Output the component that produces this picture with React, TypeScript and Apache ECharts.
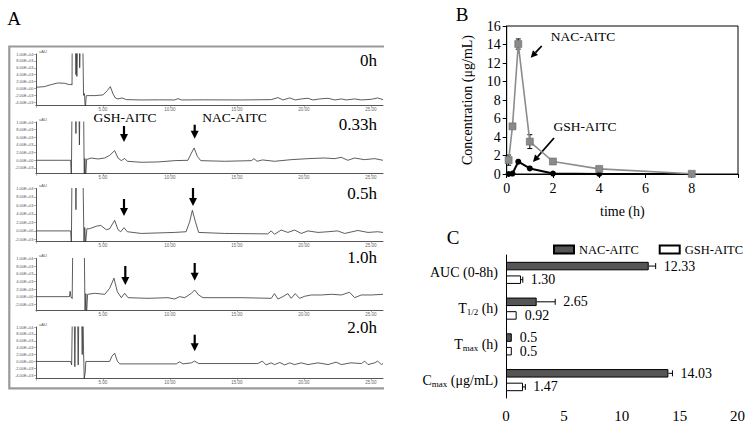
import React, { useEffect, useRef } from 'react';
import * as echarts from 'echarts';

const SERIF = 'Liberation Serif, Times New Roman, Times, serif';
const SANS = 'Liberation Sans, Arial, Helvetica, sans-serif';

// ---------- Panel A: HPLC chromatograms (x: min, y: uAU) ----------
const chromPanelNames = ['0h', '0.33h', '0.5h', '1.0h', '2.0h'];
const chromYMins = [-5000, -3500, -2500, -3500, -5000];
const chromYMax = 10000;
const chromYTicks = [
  [-4000, -2000, 0, 2000, 4000, 6000, 8000, 10000],
  [-2000, 0, 2000, 4000, 6000, 8000, 10000],
  [-2000, 0, 2000, 4000, 6000, 8000, 10000],
  [-2000, 0, 2000, 4000, 6000, 8000, 10000],
  [-4000, -2000, 0, 2000, 4000, 6000, 8000, 10000],
];
const chromXMax = 25.9;

const trace0h = [
  [0, 340], [0.62, 530], [1.13, 1110], [1.63, 1600], [2.13, 1500], [2.5, 1110], [2.62, 1200],
  [2.69, 1000], [2.7, 12000], [2.96, 12000], [2.98, 4000], [3.0, 12000], [3.05, 3500], [3.1, 12000],
  [3.24, 12000], [3.26, 6000], [3.3, 12000], [3.5, 12000], [3.55, -2000], [3.62, -1500], [3.68, -6000],
  [3.75, -2100], [3.88, -2070], [4.38, -2070], [5.0, -1880], [5.32, -620], [5.55, 530], [5.75, -1590],
  [5.92, -2750], [6.12, -3040], [6.42, -2750], [6.74, -3240], [7.86, -3330], [9.2, -3300], [10.35, -3330],
  [10.6, -2950], [10.85, -3330], [12.5, -3300], [15.32, -3330], [17.56, -3240], [18.06, -2650],
  [18.43, -3330], [18.93, -2750], [19.35, -3330], [19.8, -3040], [20.3, -2850], [20.67, -3330],
  [21.17, -3040], [21.8, -2850], [22.3, -3330], [22.8, -3040], [23.16, -3330], [23.78, -3040],
  [24.28, -3330], [25.03, -3150], [25.5, -2750], [25.9, -3240],
];
const trace033h = [
  [0, 0], [1.5, 0], [2.59, 0], [2.64, -5000], [2.69, 15000], [2.95, 15000], [2.98, 7000], [3.02, 15000],
  [3.2, 15000], [3.24, 4000], [3.28, 15000], [3.55, 15000], [3.6, -5000], [3.65, 500], [3.7, -5000],
  [3.78, 300], [3.88, 300], [4.1, 600], [4.63, 350], [5.13, 600], [5.5, 1300], [5.87, 2520], [6.12, 600],
  [6.37, -90], [6.62, 500], [6.82, -260], [7.86, -520], [9.1, -430], [10.35, -90], [11.34, 0],
  [11.54, 1480], [11.8, 3220], [12.04, 1040], [12.3, -90], [14.08, -260], [16.07, -90], [16.27, 430],
  [16.5, -260], [16.9, 90], [17.8, -260], [19.05, 170], [20.3, 430], [21.5, 600], [22.3, 430],
  [22.78, 780], [23.28, 0], [23.78, 600], [24.5, 170], [25.28, 430], [25.9, 0],
];
const trace05h = [
  [0, 0], [2.59, 0], [2.64, -3000], [2.69, 15000], [2.95, 15000], [2.98, 5000], [3.02, 15000],
  [3.5, 15000], [3.58, -3000], [3.64, 800], [3.7, -3000], [3.8, 500], [4.0, 520], [4.5, 1100],
  [4.83, 1300], [5.25, 280], [5.5, 520], [5.87, 2500], [6.12, 300], [6.32, -200], [6.57, 760],
  [6.82, -200], [7.86, -600], [10.35, -360], [11.2, -200], [11.47, 2150], [11.67, 4850], [11.9, 2150],
  [12.14, -360], [14.08, -600], [17.3, -700], [17.56, 0], [17.8, -800], [18.3, 200], [18.8, -360],
  [19.3, 200], [19.8, -600], [20.3, 0], [21.05, -360], [21.8, -200], [22.5, 0], [23.04, -600],
  [24.03, 100], [24.78, -360], [25.5, -200], [25.9, -360],
];
const trace10h = [
  [0, 0], [2.5, 0], [2.55, 1400], [2.6, 0], [2.7, -500], [2.75, 15000], [3.6, 15000], [3.66, -5000],
  [3.72, 800], [3.77, -5000], [3.85, 600], [3.88, 600], [4.38, 880], [5.13, 600], [5.5, 2190],
  [5.82, 4840], [6.07, 1300], [6.37, -270], [6.62, 880], [6.87, -270], [8.36, -440], [9.85, -270],
  [10.35, -620], [10.72, 0], [11.1, -270], [11.6, 880], [11.84, 1760], [12.14, 440], [12.46, -270],
  [15.32, -270], [17.56, -440], [17.8, 790], [18.06, -620], [18.43, 0], [18.8, 790], [19.05, -440],
  [19.35, 790], [19.67, -440], [20.05, 90], [20.55, 440], [21.3, 440], [22.04, 620], [22.8, 440],
  [23.4, 1150], [23.78, -270], [24.28, 440], [25.03, 440], [25.9, 620],
];
const trace20h = [
  [0, 0], [2.59, 0], [2.66, -1000], [2.72, 15000], [2.85, 15000], [2.9, -1500], [2.95, 15000],
  [3.1, 15000], [3.15, -1000], [3.2, 15000], [3.4, 15000], [3.45, 2000], [3.5, 15000], [3.55, 3000],
  [3.6, -5000], [3.68, -3000], [3.72, 0], [3.88, 0], [5.5, 0], [5.67, 1550], [5.87, 2400], [6.07, 100],
  [6.25, -700], [7.86, -700], [10.47, -700], [10.72, -100], [10.97, -700], [11.6, -400], [11.84, 100],
  [12.14, -600], [16.55, -600], [16.9, 100], [17.17, -1000], [17.55, -400], [17.8, -900], [18.2, -300],
  [18.56, -1000], [18.93, -400], [19.3, -900], [19.8, -400], [20.3, -900], [21.05, -400], [21.8, -900],
  [22.4, -200], [22.8, -900], [23.5, -400], [24.3, -600], [24.53, 100], [24.78, -900], [25.28, -400],
  [25.5, 100], [25.78, -900], [25.9, -600],
];
const chromTraces = [trace0h, trace033h, trace05h, trace10h, trace20h];

// ---------- Panel B: plasma concentration ----------
const timeH = [0.083, 0.25, 0.5, 1, 2, 4, 8];
const nacConc = [1.5, 5.15, 14.05, 3.5, 1.35, 0.55, 0.02];
const nacConcErr = [0.55, 0.15, 0.55, 0.75, 0.1, 0.2, 0];
const gshConc = [0.0, 0.05, 1.33, 0.6, 0.05, 0.0, 0.0];

// ---------- Panel C: PK parameters ----------
const pkParams = ['AUC (0-8h)', 'T1/2 (h)', 'Tmax (h)', 'Cmax (μg/mL)'];
const pkParamRich = ['AUC (0-8h)', 'T{sub|1/2} (h)', 'T{sub|max} (h)', 'C{sub|max} (μg/mL)'];
const nacPk = [12.33, 2.65, 0.5, 14.03];
const nacPkErr = [0.6, 1.6, 0, 0.35];
const nacPkLabels = ['12.33', '2.65', '0.5', '14.03'];
const gshPk = [1.3, 0.92, 0.5, 1.47];
const gshPkErr = [0.15, 0, 0, 0.2];
const gshPkLabels = ['1.30', '0.92', '0.5', '1.47'];

// ---------- layout ----------
const chromTops = [54, 122, 188.5, 258.5, 327];
const chromHeights = [51.7, 51.7, 53, 51.5, 51.7];
const chromLeft = 36;
const chromWidth = 347;
const BAR_W = 8.5;
const BAR_GAP_PX = 5.1;

const sci = (v: number) => {
  if (v === 0) return '0.00E+00';
  const e = Math.floor(Math.log10(Math.abs(v)) + 1e-9);
  const m = v / Math.pow(10, e);
  return m.toFixed(2) + 'E' + (e < 0 ? '-' : '+') + String(Math.abs(e)).padStart(2, '0');
};

const vArrow = (x: number, y1: number, y2: number) => ({
  type: 'group',
  children: [
    { type: 'line', shape: { x1: x, y1, x2: x, y2: y2 - 7 }, style: { stroke: '#000', lineWidth: 2.2 } },
    { type: 'polygon', shape: { points: [[x - 4, y2 - 8], [x + 4, y2 - 8], [x, y2]] }, style: { fill: '#000' } },
  ],
});

const dArrow = (x1: number, y1: number, x2: number, y2: number) => {
  const dx = x2 - x1, dy = y2 - y1;
  const L = Math.hypot(dx, dy);
  const ux = dx / L, uy = dy / L;
  const head = 7, half = 3.5;
  const bx = x2 - ux * head, by = y2 - uy * head;
  const px = -uy, py = ux;
  return {
    type: 'group',
    children: [
      { type: 'line', shape: { x1, y1, x2: bx, y2: by }, style: { stroke: '#000', lineWidth: 1.8 } },
      { type: 'polygon', shape: { points: [[x2, y2], [bx + px * half, by + py * half], [bx - px * half, by - py * half]] }, style: { fill: '#000' } },
    ],
  };
};

const txt = (text: string, x: number, y: number, size: number, align = 'center', family = SERIF, fill = '#000') => ({
  type: 'text',
  x,
  y,
  style: { text, fill, fontSize: size, fontFamily: family, textAlign: align, textVerticalAlign: 'middle' },
});

export default function App() {
  const ref = useRef<HTMLDivElement>(null);

  useEffect(() => {
    if (!ref.current) return;
    const chart = echarts.init(ref.current, undefined, { renderer: 'svg' });

    const grids: any[] = [];
    const xAxes: any[] = [];
    const yAxes: any[] = [];
    const series: any[] = [];

    chromTraces.forEach((trace, i) => {
      grids.push({ left: chromLeft, top: chromTops[i], width: chromWidth, height: chromHeights[i] });
      xAxes.push({
        gridIndex: i, type: 'value', min: 0, max: chromXMax, interval: 5,
        axisLine: { show: true, onZero: false, lineStyle: { color: '#555', width: 1 } },
        axisTick: { show: true, length: 2, lineStyle: { color: '#777', width: 0.6 } },
        axisLabel: { fontSize: 4.5, color: '#666', margin: 1.5, fontFamily: SANS, showMaxLabel: false,
          formatter: (v: number) => (v === 0 ? '' : v.toFixed(2)) },
        splitLine: { show: false },
      });
      yAxes.push({
        gridIndex: i, type: 'value', min: chromYMins[i], max: chromYMax,
        axisLine: { show: true, onZero: false, lineStyle: { color: '#555', width: 1 } },
        axisTick: { show: true, length: 2, customValues: chromYTicks[i], lineStyle: { color: '#777', width: 0.6 } },
        axisLabel: { fontSize: 4, color: '#555', margin: 2.5, fontFamily: SANS, customValues: chromYTicks[i], formatter: sci },
        splitLine: { show: false },
      });
      series.push({
        name: 'chrom ' + chromPanelNames[i], type: 'line', xAxisIndex: i, yAxisIndex: i, data: trace,
        symbol: 'none', showSymbol: false, clip: true, silent: true,
        lineStyle: { color: '#333', width: 0.8 },
      });
    });

    // Panel B
    const bIdx = 5;
    grids.push({ left: 506.7, top: 26, width: 231.3, height: 148, show: true, borderColor: '#000', borderWidth: 1 });
    xAxes.push({
      gridIndex: bIdx, type: 'value', min: 0, max: 10, interval: 2,
      name: 'time (h)', nameLocation: 'middle', nameGap: 30,
      nameTextStyle: { fontFamily: SERIF, fontSize: 14, color: '#000' },
      axisLine: { lineStyle: { color: '#000' } },
      axisTick: { length: 4, lineStyle: { color: '#000' } },
      axisLabel: { fontFamily: SERIF, fontSize: 14, color: '#000', margin: 7, formatter: (v: number) => (v > 8 ? '' : String(v)) },
      splitLine: { show: false },
    });
    yAxes.push({
      gridIndex: bIdx, type: 'value', min: 0, max: 16, interval: 2,
      name: 'Concentration (μg/mL)', nameLocation: 'middle', nameGap: 32,
      nameTextStyle: { fontFamily: SERIF, fontSize: 14, color: '#000' },
      axisLine: { lineStyle: { color: '#000' } },
      axisTick: { length: 4, lineStyle: { color: '#000' } },
      axisLabel: { fontFamily: SERIF, fontSize: 14, color: '#000', margin: 6 },
      splitLine: { show: false },
    });
    series.push({
      name: 'NAC-AITC conc', type: 'custom', xAxisIndex: bIdx, yAxisIndex: bIdx, z: 1, silent: true,
      data: timeH.map((t, i) => [t, nacConc[i], nacConcErr[i]]),
      renderItem: (params: any, api: any) => {
        const x = api.value(0), y = api.value(1), e = api.value(2);
        if (!e) return { type: 'group', children: [] };
        const top = api.coord([x, y + e]);
        const bot = api.coord([x, y - e]);
        const st = { stroke: '#000', lineWidth: 1 };
        return {
          type: 'group',
          children: [
            { type: 'line', shape: { x1: top[0], y1: top[1], x2: bot[0], y2: bot[1] }, style: st },
            { type: 'line', shape: { x1: top[0] - 2.5, y1: top[1], x2: top[0] + 2.5, y2: top[1] }, style: st },
            { type: 'line', shape: { x1: bot[0] - 2.5, y1: bot[1], x2: bot[0] + 2.5, y2: bot[1] }, style: st },
          ],
        };
      },
    });
    series.push({
      name: 'GSH-AITC conc', type: 'line', xAxisIndex: bIdx, yAxisIndex: bIdx, z: 3,
      data: timeH.map((t, i) => [t, gshConc[i]]),
      symbol: 'circle', symbolSize: 6, showSymbol: true,
      itemStyle: { color: '#000' }, lineStyle: { color: '#000', width: 2 },
    });
    series.push({
      name: 'NAC-AITC conc line', type: 'line', xAxisIndex: bIdx, yAxisIndex: bIdx, z: 4,
      data: timeH.map((t, i) => [t, nacConc[i]]),
      symbol: 'rect', symbolSize: 7, showSymbol: true,
      itemStyle: { color: '#8a8a8a', borderColor: '#6a6a6a', borderWidth: 0.6 },
      lineStyle: { color: '#8c8c8c', width: 1.6 },
    });

    // Panel C
    const cIdx = 6;
    grids.push({ left: 506, top: 255, width: 235, height: 145 });
    xAxes.push({
      gridIndex: cIdx, type: 'value', min: 0, max: 20, interval: 5,
      axisLine: { lineStyle: { color: '#000' } },
      axisTick: { length: 4, lineStyle: { color: '#000' } },
      axisLabel: { fontFamily: SERIF, fontSize: 15, color: '#000', margin: 10 },
      splitLine: { show: false },
    });
    yAxes.push({
      gridIndex: cIdx, type: 'category', data: pkParams, inverse: true,
      axisLine: { lineStyle: { color: '#000' } },
      axisTick: { alignWithLabel: true, length: 4, lineStyle: { color: '#000' } },
      axisLabel: {
        fontFamily: SERIF, fontSize: 14, color: '#000', margin: 8,
        formatter: (_v: string, i: number) => pkParamRich[i],
        rich: { sub: { fontFamily: SERIF, fontSize: 9, color: '#000', padding: [7, 0, 0, 0] } },
      },
    });
    series.push({
      name: 'NAC-AITC', type: 'bar', xAxisIndex: cIdx, yAxisIndex: cIdx, data: nacPk,
      barWidth: BAR_W, barGap: '60%',
      itemStyle: { color: '#555555', borderColor: '#000', borderWidth: 1 },
    });
    series.push({
      name: 'GSH-AITC', type: 'bar', xAxisIndex: cIdx, yAxisIndex: cIdx, data: gshPk,
      barWidth: BAR_W, barGap: '60%',
      itemStyle: { color: '#ffffff', borderColor: '#000', borderWidth: 1 },
    });
    const pkErrSeries = (name: string, vals: number[], errs: number[], labels: string[], sign: number) => ({
      name, type: 'custom', xAxisIndex: cIdx, yAxisIndex: cIdx, z: 5, silent: true,
      data: vals.map((v, i) => [v, i, errs[i]]),
      encode: { x: 0, y: 1 },
      renderItem: (params: any, api: any) => {
        const v = api.value(0), idx = api.value(1), e = api.value(2);
        const base = api.coord([v, idx]);
        const end = api.coord([v + e, idx]);
        const y = base[1] + sign * (BAR_W / 2 + BAR_GAP_PX / 2);
        const st = { stroke: '#000', lineWidth: 1 };
        const children: any[] = [];
        if (e > 0) {
          children.push({ type: 'line', shape: { x1: base[0], y1: y, x2: end[0], y2: y }, style: st });
          children.push({ type: 'line', shape: { x1: end[0], y1: y - 3, x2: end[0], y2: y + 3 }, style: st });
        }
        children.push({
          type: 'text', x: end[0] + 8, y,
          style: { text: labels[params.dataIndex], fontFamily: SERIF, fontSize: 14, fill: '#000', textAlign: 'left', textVerticalAlign: 'middle' },
        });
        return { type: 'group', children };
      },
    });
    series.push(pkErrSeries('NAC-AITC err', nacPk, nacPkErr, nacPkLabels, -1));
    series.push(pkErrSeries('GSH-AITC err', gshPk, gshPkErr, gshPkLabels, 1));

    const graphics: any[] = [
      { type: 'polyline', shape: { points: [[384, 46.5], [9.3, 46.5], [9.3, 388.3], [384, 388.3]] }, style: { stroke: '#9a9a9a', lineWidth: 2.2, fill: null } },
      txt('A', 14, 18, 19),
      txt('B', 462, 14, 19),
      txt('C', 453, 237, 19),
      txt('GSH-AITC', 125, 117, 13.5),
      txt('NAC-AITC', 234.5, 117, 13.5),
      txt('NAC-AITC', 583, 36, 13.5),
      txt('GSH-AITC', 585, 126, 13.5),
      vArrow(124, 126, 142),
      vArrow(194.7, 124.7, 138.7),
      vArrow(124, 199, 216),
      vArrow(193, 188, 206),
      vArrow(125.3, 266, 285),
      vArrow(194.7, 263, 280.7),
      vArrow(194.7, 334.7, 351.3),
      dArrow(541.7, 46, 530.7, 57.7),
      dArrow(554, 138, 533, 162),
    ];
    const timeLabelY = [60, 124, 193.5, 257.5, 327.5];
    chromPanelNames.forEach((n, i) => {
      graphics.push(txt(n, 377, timeLabelY[i], 17, 'right'));
      graphics.push(txt('uAU', 39, chromTops[i] - 3, 4, 'left', SANS, '#555'));
    });

    chart.setOption({
      animation: false,
      backgroundColor: '#ffffff',
      textStyle: { fontFamily: SERIF },
      legend: {
        data: ['NAC-AITC', 'GSH-AITC'], left: 553, top: 243, icon: 'rect', orient: 'horizontal',
        width: 194, itemWidth: 20, itemHeight: 8, itemGap: 20, selectedMode: false, padding: 0,
        textStyle: { fontFamily: SERIF, fontSize: 12.5, color: '#000', padding: [0, 0, 0, 0] },
      },
      grid: grids,
      xAxis: xAxes,
      yAxis: yAxes,
      series,
      graphic: graphics,
    });

    return () => chart.dispose();
  }, []);

  return <div ref={ref} style={{ position: 'fixed', left: 0, top: 0, width: 748, height: 423, background: '#fff' }} />;
}
